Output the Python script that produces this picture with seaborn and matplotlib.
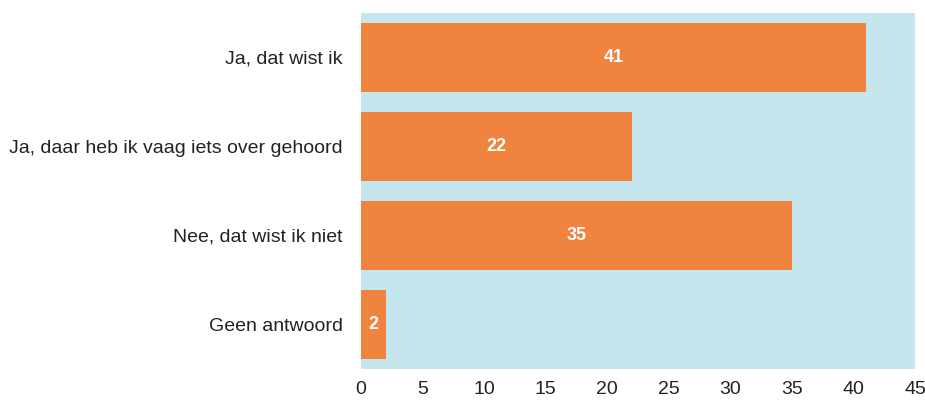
import matplotlib
matplotlib.use("Agg")
import matplotlib.pyplot as plt
import seaborn as sns
import pandas as pd

categories = ["Ja, dat wist ik", "Ja, daar heb ik vaag iets over gehoord", "Nee, dat wist ik niet", "Geen antwoord"]
values = [41, 22, 35, 2]
xticks = [0, 5, 10, 15, 20, 25, 30, 35, 40, 45]

sns.set_style("white")
plt.rcParams['font.family'] = ['Liberation Sans', 'DejaVu Sans']

df = pd.DataFrame({"cat": categories, "val": values})

fig = plt.figure(figsize=(9.25, 4), dpi=100)
ax = fig.add_axes([361/925, 1-369/400, (915-361)/925, (369-13)/400])
ax.set_facecolor("#C4E6EC")
sns.barplot(data=df, x="val", y="cat", color="#F0843F", saturation=1, width=0.77, ax=ax, orient="h")
for p in ax.patches:
    p.set_edgecolor("none")
for c in ax.containers:
    ax.bar_label(c, labels=[str(v) for v in values], label_type="center", color="white",
                 fontsize=13, fontweight="bold")
ax.set_xlim(0, 45)
ax.set_xticks(xticks)
ax.set_xlabel("")
ax.set_ylabel("")
for s in ax.spines.values():
    s.set_visible(False)
ax.tick_params(axis="x", length=0, labelsize=14, pad=9, colors="#222222")
ax.tick_params(axis="y", length=0, labelsize=14, pad=13, colors="#222222")
fig.savefig("out.png", dpi=100)
